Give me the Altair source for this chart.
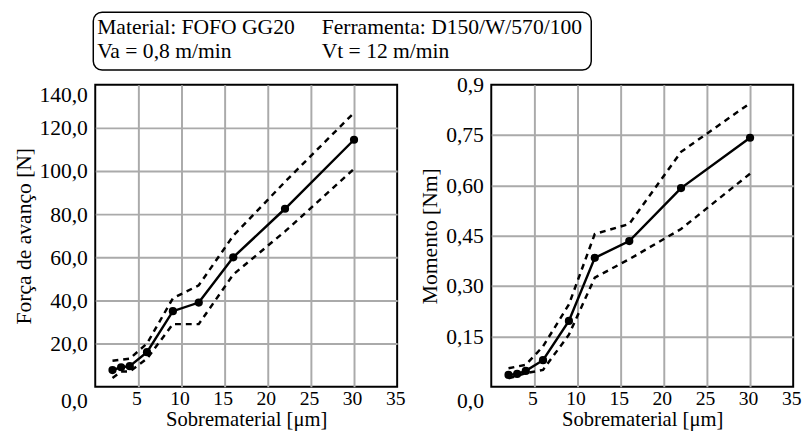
import altair as alt
import pandas as pd

# ---- data ----
sobrematerial = [2, 3, 4, 6, 9, 12, 16, 22, 30]

forca_media = [7.7, 9.0, 9.5, 16.0, 35.0, 39.0, 60.0, 82.5, 114.5]
forca_sup = [12.0, 12.5, 13.0, 20.0, 41.0, 47.0, 70.0, 95.0, 127.0]
forca_inf = [4.0, 7.0, 7.0, 13.0, 29.0, 29.0, 52.0, 72.0, 101.0]

momento_media = [0.035, 0.038, 0.047, 0.079, 0.196, 0.384, 0.434, 0.592, 0.742]
momento_sup = [0.055, 0.060, 0.065, 0.120, 0.245, 0.455, 0.485, 0.700, 0.845]
momento_inf = [0.025, 0.032, 0.040, 0.050, 0.155, 0.325, 0.380, 0.470, 0.635]

x_ticks = [5, 10, 15, 20, 25, 30, 35]
forca_ticks = [0, 20, 40, 60, 80, 100, 120, 140]
momento_ticks = [0, 0.15, 0.30, 0.45, 0.60, 0.75, 0.90]

header_texts = ["Material: FOFO GG20", "Ferramenta: D150/W/570/100",
                "Va = 0,8 m/min", "Vt = 12 m/min"]

FONT = "'Liberation Serif', 'Times New Roman', Times, 'DejaVu Serif', serif"
W = 308
H = 308


def long_df(mean, upper, lower):
    rows = []
    for x, m, u, l in zip(sobrematerial, mean, upper, lower):
        rows.append({"x": x, "v": m, "serie": "media"})
        rows.append({"x": x, "v": u, "serie": "sup"})
        rows.append({"x": x, "v": l, "serie": "inf"})
    return pd.DataFrame(rows)


x_enc = alt.X(
    "x:Q",
    scale=alt.Scale(domain=[0, 35], nice=False),
    axis=alt.Axis(
        values=x_ticks,
        title="Sobrematerial [\u03bcm]",
        labelFlush=False,
        labelOffset=-2,
        gridOpacity={"condition": {"test": "datum.value == 35", "value": 0}, "value": 1},
    ),
)


def panel(df, y_domain, y_ticks, y_title, label_expr, top_flush):
    top = y_domain[1]
    if top_flush:
        baseline = {"condition": {"test": f"datum.value == 0 || datum.value == {top}", "value": "top"},
                    "value": "middle"}
    else:
        baseline = {"condition": {"test": "datum.value == 0", "value": "top"}, "value": "middle"}
    y_enc = alt.Y(
        "v:Q",
        scale=alt.Scale(domain=y_domain, nice=False),
        axis=alt.Axis(
            values=y_ticks,
            title=y_title,
            labelExpr=label_expr,
            labelBaseline=baseline,
            labelOffset={"condition": {"test": "datum.value == 0", "value": 4}, "value": 0},
            gridOpacity={"condition": {"test": f"datum.value == 0 || datum.value == {top}", "value": 0},
                         "value": 1},
        ),
    )
    base = alt.Chart(df)
    bands = base.transform_filter(alt.datum.serie != "media").mark_line(
        color="black", strokeWidth=2.5, strokeDash=[6, 5]
    ).encode(x=x_enc, y=y_enc, detail="serie:N")
    mean_line = base.transform_filter(alt.datum.serie == "media").mark_line(
        color="black", strokeWidth=2.5
    ).encode(x=x_enc, y=y_enc)
    mean_pts = base.transform_filter(alt.datum.serie == "media").mark_circle(
        color="black", size=70, opacity=1
    ).encode(x=x_enc, y=y_enc)
    return [bands, mean_line, mean_pts]


one = pd.DataFrame({"k": [0]})
box = alt.Chart(one).mark_rect(
    cornerRadius=9, fill="white", fillOpacity=0, stroke="black", strokeWidth=1.5
).encode(x=alt.value(-2), x2=alt.value(506), y=alt.value(-74), y2=alt.value(-15))

header_pos = [(2, -52), (231, -52), (2, -27), (231, -27)]
header_layers = []
for txt, (px, py) in zip(header_texts, header_pos):
    header_layers.append(
        alt.Chart(pd.DataFrame({"label": [txt]})).mark_text(
            align="left", baseline="alphabetic", font=FONT, fontSize=22, color="black"
        ).encode(text="label:N", x=alt.value(px), y=alt.value(py))
    )

left = alt.layer(
    *panel(long_df(forca_media, forca_sup, forca_inf), [0, 140], forca_ticks,
           "Força de avanço [N]", "replace(format(datum.value, '.1f'), '.', ',')", True),
    box, *header_layers,
).properties(width=W, height=H)

right = alt.layer(
    *panel(long_df(momento_media, momento_sup, momento_inf), [0, 0.9], momento_ticks,
           "Momento [Nm]",
           "datum.value == 0 ? '0,0' : datum.value == 0.9 ? '0,9' : replace(format(datum.value, '.2f'), '.', ',')",
           False),
).properties(width=W, height=H)

chart = alt.hconcat(left, right, spacing=96, bounds="flush").properties(
    padding={"left": 3, "top": -2, "right": 0, "bottom": 0}
).configure_view(
    stroke="black", strokeWidth=2
).configure_axis(
    labelFont=FONT, titleFont=FONT, labelFontSize=22, titleFontSize=22,
    titleFontWeight="normal", labelColor="black", titleColor="black",
    ticks=False, domain=False, gridColor="#aaaaaa", gridWidth=2, labelPadding=8,
).configure_axisX(
    labelFontSize=20, labelPadding=2, titlePadding=1, titleFontSize=21
).configure_axisY(
    titlePadding=4
)

chart.save("out.html", embed_options={"renderer": "svg", "actions": False})
